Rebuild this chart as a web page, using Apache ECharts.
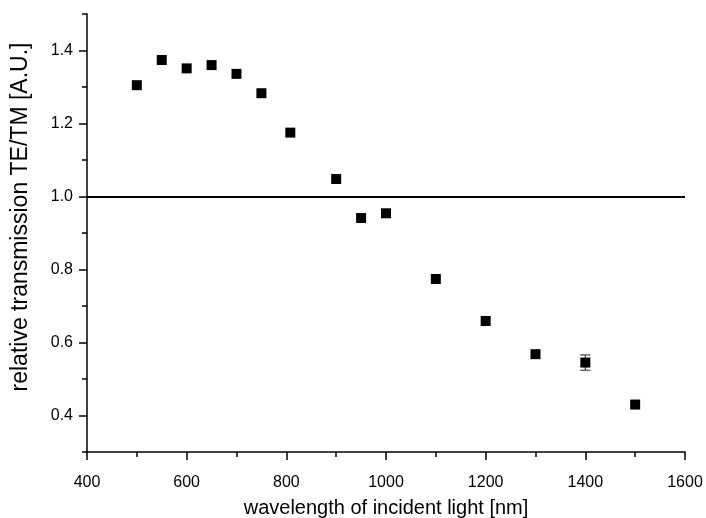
<!DOCTYPE html>
<html>
<head>
<meta charset="utf-8">
<script src="https://cdn.jsdelivr.net/npm/echarts@6/dist/echarts.min.js"></script>
<style>
  html, body { margin: 0; padding: 0; background: #fff; }
  #chart { width: 706px; height: 518px; }
</style>
</head>
<body>
<div id="chart"></div>
<script>
// Relative TE/TM transmission measured at several wavelengths
const wavelengths = [500, 550, 600, 650, 700, 750, 808, 900, 950, 1000, 1100, 1200, 1300, 1400, 1500];
const ratio = [1.305, 1.374, 1.351, 1.360, 1.336, 1.283, 1.175, 1.048, 0.941, 0.954, 0.774, 0.659, 0.568, 0.545, 0.430];
const ratioError = [0, 0, 0, 0, 0, 0, 0, 0, 0, 0, 0, 0, 0, 0.021, 0];
const referenceLevel = 1.0;

// labelled ticks on the ratio axis; minor ticks sit halfway between them
const yMajorTicks = [0.4, 0.6, 0.8, 1.0, 1.2, 1.4];

const xTitle = 'wavelength of incident light [nm]';
const yTitle = 'relative transmission TE/TM [A.U.]';

const points = wavelengths.map((w, i) => [w, ratio[i]]);
const errorBars = wavelengths
  .map((w, i) => [w, ratio[i] - ratioError[i], ratio[i] + ratioError[i]])
  .filter((d, i) => ratioError[i] > 0);

const font = '"Liberation Sans", Arial, sans-serif';
const black = { color: '#000', width: 1.5 };

const chart = echarts.init(document.getElementById('chart'), null, { renderer: 'canvas' });
chart.setOption({
  backgroundColor: '#fff',
  animation: false,
  grid: { left: 87, right: 21, top: 14, bottom: 66, containLabel: false, outerBoundsMode: 'none' },
  xAxis: {
    type: 'value',
    min: 400, max: 1600, interval: 200,
    name: xTitle,
    nameLocation: 'middle',
    nameGap: 46,
    nameTextStyle: { fontFamily: font, fontSize: 20, color: '#000' },
    axisLine: { show: true, lineStyle: black },
    axisTick: { show: true, length: 8, lineStyle: black },
    minorTick: { show: true, splitNumber: 2, length: 5, lineStyle: black },
    axisLabel: { fontFamily: font, fontSize: 16, color: '#000', margin: 23, formatter: v => String(v) },
    splitLine: { show: false }
  },
  yAxis: [
    {
      type: 'value',
      min: 0.3, max: 1.5,
      name: yTitle,
      nameLocation: 'middle',
      nameGap: 55,
      // extra space at the start of the rotated title lifts it a little
      nameTextStyle: { fontFamily: font, fontSize: 23, color: '#000', padding: [0, 0, 0, 32] },
      axisLine: { show: true, lineStyle: black },
      axisTick: { show: true, length: 8, lineStyle: black, customValues: yMajorTicks },
      axisLabel: {
        fontFamily: font, fontSize: 16, color: '#000', margin: 14,
        customValues: yMajorTicks,
        formatter: v => v.toFixed(1)
      },
      splitLine: { show: false }
    },
    {
      // minor ticks only, at 0.3, 0.5, ... 1.5
      type: 'value',
      position: 'left',
      min: 0.3, max: 1.5, interval: 0.2,
      axisLine: { show: false },
      axisTick: { show: true, length: 5, lineStyle: black },
      axisLabel: { show: false },
      splitLine: { show: false }
    }
  ],
  series: [
    {
      type: 'scatter',
      data: points,
      symbol: 'rect',
      symbolSize: 10,
      itemStyle: { color: '#000', opacity: 1 },
      markLine: {
        silent: true,
        symbol: ['none', 'none'],
        label: { show: false },
        lineStyle: { color: '#000', width: 2, type: 'solid', opacity: 1 },
        data: [{ yAxis: referenceLevel }]
      },
      z: 3
    },
    {
      type: 'custom',
      data: errorBars,
      renderItem: function (params, api) {
        const x = api.value(0);
        const lo = api.coord([x, api.value(1)]);
        const hi = api.coord([x, api.value(2)]);
        const half = 5;
        const style = { stroke: '#444', lineWidth: 1.2 };
        return {
          type: 'group',
          children: [
            { type: 'line', shape: { x1: lo[0], y1: lo[1], x2: hi[0], y2: hi[1] }, style },
            { type: 'line', shape: { x1: lo[0] - half, y1: lo[1], x2: lo[0] + half, y2: lo[1] }, style },
            { type: 'line', shape: { x1: hi[0] - half, y1: hi[1], x2: hi[0] + half, y2: hi[1] }, style }
          ]
        };
      },
      z: 2
    }
  ]
});
</script>
</body>
</html>
